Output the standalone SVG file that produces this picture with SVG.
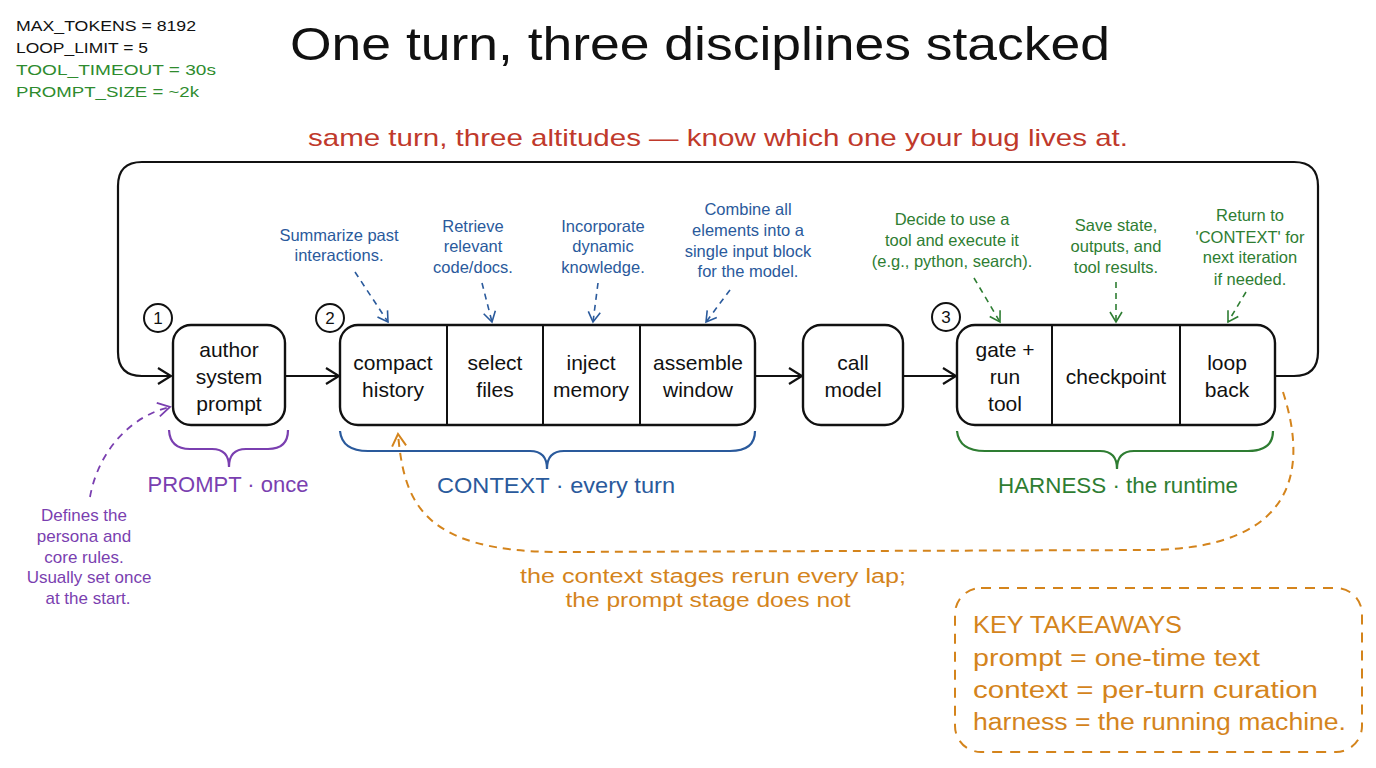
<svg xmlns="http://www.w3.org/2000/svg" width="1376" height="768" viewBox="0 0 1376 768">
<defs>
<style>
text{font-family:"Liberation Sans",Arial,sans-serif;}
.box{fill:#fff;stroke:#111;stroke-width:2.4;}
.div{stroke:#111;stroke-width:2;}
.lbl{font-size:21px;fill:#111;text-anchor:middle;}
.num{font-size:17px;fill:#111;text-anchor:middle;}
.circ{fill:#fff;stroke:#111;stroke-width:2;}
.conn{fill:none;stroke:#111;stroke-width:2.2;}
.blue{fill:#2a5a9c;}
.green{fill:#2e7d32;}
.purple{fill:#7a3fb0;}
.orange{fill:#d4841c;}
.note{font-size:16.5px;text-anchor:middle;}
.pnote{font-size:17px;text-anchor:middle;}
.dblue{fill:none;stroke:#2a5a9c;stroke-width:1.6;stroke-dasharray:6 5;}
.dgreen{fill:none;stroke:#2e7d32;stroke-width:1.6;stroke-dasharray:6 5;}
.dpurple{fill:none;stroke:#7a3fb0;stroke-width:1.8;stroke-dasharray:7 6;}
.dorange{fill:none;stroke:#d4841c;stroke-width:2;stroke-dasharray:8 6;}
.brace{fill:none;stroke-width:2.2;}
.cfg{font-size:15px;}
.tk{font-size:23px;}
</style>
<marker id="ak" viewBox="-14 -9 16 18" refX="0" refY="0" markerWidth="16" markerHeight="18" markerUnits="userSpaceOnUse" orient="auto"><path d="M-13,-8 L0,0 L-13,8" fill="none" stroke="#111" stroke-width="2.2"/></marker>
<marker id="ab" viewBox="-12 -8 14 16" refX="0" refY="0" markerWidth="14" markerHeight="16" markerUnits="userSpaceOnUse" orient="auto"><path d="M-10,-6 L0,0 L-10,6" fill="none" stroke="#2a5a9c" stroke-width="1.6"/></marker>
<marker id="ag" viewBox="-12 -8 14 16" refX="0" refY="0" markerWidth="14" markerHeight="16" markerUnits="userSpaceOnUse" orient="auto"><path d="M-10,-6 L0,0 L-10,6" fill="none" stroke="#2e7d32" stroke-width="1.6"/></marker>
<marker id="ap" viewBox="-14 -9 16 18" refX="0" refY="0" markerWidth="16" markerHeight="18" markerUnits="userSpaceOnUse" orient="auto"><path d="M-12,-7 L0,0 L-12,7" fill="none" stroke="#7a3fb0" stroke-width="1.8"/></marker>
<marker id="ao" viewBox="-14 -9 16 18" refX="0" refY="0" markerWidth="16" markerHeight="18" markerUnits="userSpaceOnUse" orient="auto"><path d="M-12,-7 L0,0 L-12,7" fill="none" stroke="#d4841c" stroke-width="2"/></marker>
</defs>
<rect width="1376" height="768" fill="#fff"/>

<g id="config">
<text class="cfg" x="16" y="31" fill="#111" textLength="180" lengthAdjust="spacingAndGlyphs">MAX_TOKENS = 8192</text>
<text class="cfg" x="16" y="53" fill="#111" textLength="132" lengthAdjust="spacingAndGlyphs">LOOP_LIMIT = 5</text>
<text class="cfg" x="16" y="75" fill="#2e8b2e" textLength="200" lengthAdjust="spacingAndGlyphs">TOOL_TIMEOUT = 30s</text>
<text class="cfg" x="16" y="97" fill="#2e8b2e" textLength="183" lengthAdjust="spacingAndGlyphs">PROMPT_SIZE = ~2k</text>
</g>

<g id="title">
<text x="700" y="60" font-size="46" fill="#111" text-anchor="middle" textLength="820" lengthAdjust="spacingAndGlyphs">One turn, three disciplines stacked</text>
<text x="718" y="146" font-size="24" fill="#c0392b" text-anchor="middle" textLength="820" lengthAdjust="spacingAndGlyphs">same turn, three altitudes — know which one your bug lives at.</text>
</g>

<g id="connectors">
<path class="conn" d="M1275,376 H1294 Q1318,376 1318,352 V186 Q1318,162 1294,162 H142 Q118,162 118,186 V352 Q118,376 142,376 H171" marker-end="url(#ak)"/>
<path class="conn" d="M286,376 H339" marker-end="url(#ak)"/>
<path class="conn" d="M755,376 H802" marker-end="url(#ak)"/>
<path class="conn" d="M903,376 H956" marker-end="url(#ak)"/>
<path class="dblue" d="M355,272 L388,322" marker-end="url(#ab)"/>
<path class="dblue" d="M482,283 L492,322" marker-end="url(#ab)"/>
<path class="dblue" d="M598,283 L593,322" marker-end="url(#ab)"/>
<path class="dblue" d="M730,290 L706,322" marker-end="url(#ab)"/>
<path class="dgreen" d="M974,278 L1000,322" marker-end="url(#ag)"/>
<path class="dgreen" d="M1116,282 L1116,322" marker-end="url(#ag)"/>
<path class="dgreen" d="M1246,292 L1228,322" marker-end="url(#ag)"/>
<path class="dpurple" d="M90,497 C98,452 130,416 170,407" marker-end="url(#ap)"/>
<path class="dorange" d="M1283,392 C1305,460 1305,548 1150,550 L560,552 C420,552 404,500 398,434" marker-end="url(#ao)"/>
</g>

<g id="n1">
<circle class="circ" cx="158" cy="318" r="14"/>
<text class="num" x="158" y="324">1</text>
<rect class="box" x="173" y="325" width="112" height="100" rx="18"/>
<text class="lbl" x="229" y="357">author</text>
<text class="lbl" x="229" y="384">system</text>
<text class="lbl" x="229" y="411">prompt</text>
</g>

<g id="n2">
<circle class="circ" cx="330" cy="318" r="14"/>
<text class="num" x="330" y="324">2</text>
<rect class="box" x="340" y="325" width="415" height="100" rx="18"/>
<line class="div" x1="447" y1="325" x2="447" y2="425"/>
<line class="div" x1="543" y1="325" x2="543" y2="425"/>
<line class="div" x1="640" y1="325" x2="640" y2="425"/>
<text class="lbl" x="393" y="370">compact</text>
<text class="lbl" x="393" y="397">history</text>
<text class="lbl" x="495" y="370">select</text>
<text class="lbl" x="495" y="397">files</text>
<text class="lbl" x="591" y="370">inject</text>
<text class="lbl" x="591" y="397">memory</text>
<text class="lbl" x="698" y="370">assemble</text>
<text class="lbl" x="698" y="397">window</text>
</g>

<g id="n-call">
<rect class="box" x="803" y="325" width="100" height="100" rx="18"/>
<text class="lbl" x="853" y="370">call</text>
<text class="lbl" x="853" y="397">model</text>
</g>

<g id="n3">
<circle class="circ" cx="946" cy="317" r="14"/>
<text class="num" x="946" y="323">3</text>
<rect class="box" x="957" y="325" width="318" height="100" rx="18"/>
<line class="div" x1="1052" y1="325" x2="1052" y2="425"/>
<line class="div" x1="1180" y1="325" x2="1180" y2="425"/>
<text class="lbl" x="1005" y="357">gate +</text>
<text class="lbl" x="1005" y="384">run</text>
<text class="lbl" x="1005" y="411">tool</text>
<text class="lbl" x="1116" y="384">checkpoint</text>
<text class="lbl" x="1227" y="370">loop</text>
<text class="lbl" x="1227" y="397">back</text>
</g>

<g id="notes-context">
<text class="note blue" x="339" y="241">Summarize past</text>
<text class="note blue" x="339" y="261">interactions.</text>
<text class="note blue" x="473" y="232">Retrieve</text>
<text class="note blue" x="473" y="252">relevant</text>
<text class="note blue" x="473" y="273">code/docs.</text>
<text class="note blue" x="603" y="232">Incorporate</text>
<text class="note blue" x="603" y="252">dynamic</text>
<text class="note blue" x="603" y="273">knowledge.</text>
<text class="note blue" x="748" y="215">Combine all</text>
<text class="note blue" x="748" y="236">elements into a</text>
<text class="note blue" x="748" y="257">single input block</text>
<text class="note blue" x="748" y="277">for the model.</text>
</g>

<g id="notes-harness">
<text class="note green" x="952" y="225">Decide to use a</text>
<text class="note green" x="952" y="246">tool and execute it</text>
<text class="note green" x="952" y="267">(e.g., python, search).</text>
<text class="note green" x="1116" y="231">Save state,</text>
<text class="note green" x="1116" y="252">outputs, and</text>
<text class="note green" x="1116" y="273">tool results.</text>
<text class="note green" x="1250" y="221">Return to</text>
<text class="note green" x="1250" y="243">'CONTEXT' for</text>
<text class="note green" x="1250" y="263">next iteration</text>
<text class="note green" x="1250" y="285">if needed.</text>
</g>

<g id="brace-prompt">
<path class="brace" stroke="#7a3fb0" d="M169,430 Q170,449 190,449 H212 Q229,449 229,467 Q229,449 246,449 H268 Q288,449 288,430"/>
<text x="228" y="492" font-size="22" class="purple" text-anchor="middle">PROMPT · once</text>
</g>
<g id="brace-context">
<path class="brace" stroke="#2a5a9c" d="M340,431 Q342,451 368,451 H530 Q547,451 547,469 Q547,451 564,451 H730 Q755,451 755,431"/>
<text x="556" y="493" font-size="22" class="blue" text-anchor="middle" textLength="238" lengthAdjust="spacingAndGlyphs">CONTEXT · every turn</text>
</g>
<g id="brace-harness">
<path class="brace" stroke="#2e7d32" d="M957,431 Q959,451 985,451 H1100 Q1117,451 1117,469 Q1117,451 1134,451 H1248 Q1273,451 1273,431"/>
<text x="1118" y="493" font-size="22" class="green" text-anchor="middle" textLength="240" lengthAdjust="spacingAndGlyphs">HARNESS · the runtime</text>
</g>

<g id="note-prompt">
<text class="pnote purple" x="84" y="521">Defines the</text>
<text class="pnote purple" x="84" y="542">persona and</text>
<text class="pnote purple" x="84" y="563">core rules.</text>
<text class="pnote purple" x="89" y="583">Usually set once</text>
<text class="pnote purple" x="88" y="604">at the start.</text>
</g>

<g id="note-loop">
<text x="713" y="583" font-size="20" class="orange" text-anchor="middle" textLength="386" lengthAdjust="spacingAndGlyphs">the context stages rerun every lap;</text>
<text x="708" y="607" font-size="20" class="orange" text-anchor="middle" textLength="285" lengthAdjust="spacingAndGlyphs">the prompt stage does not</text>
</g>

<g id="takeaways">
<rect x="955" y="588" width="407" height="164" rx="26" fill="none" stroke="#d4841c" stroke-width="2" stroke-dasharray="10 8"/>
<text class="tk orange" x="973" y="633" textLength="209" lengthAdjust="spacingAndGlyphs">KEY TAKEAWAYS</text>
<text class="tk orange" x="973" y="666" textLength="287" lengthAdjust="spacingAndGlyphs">prompt = one-time text</text>
<text class="tk orange" x="973" y="698" textLength="345" lengthAdjust="spacingAndGlyphs">context = per-turn curation</text>
<text class="tk orange" x="973" y="730" textLength="373" lengthAdjust="spacingAndGlyphs">harness = the running machine.</text>
</g>
</svg>
